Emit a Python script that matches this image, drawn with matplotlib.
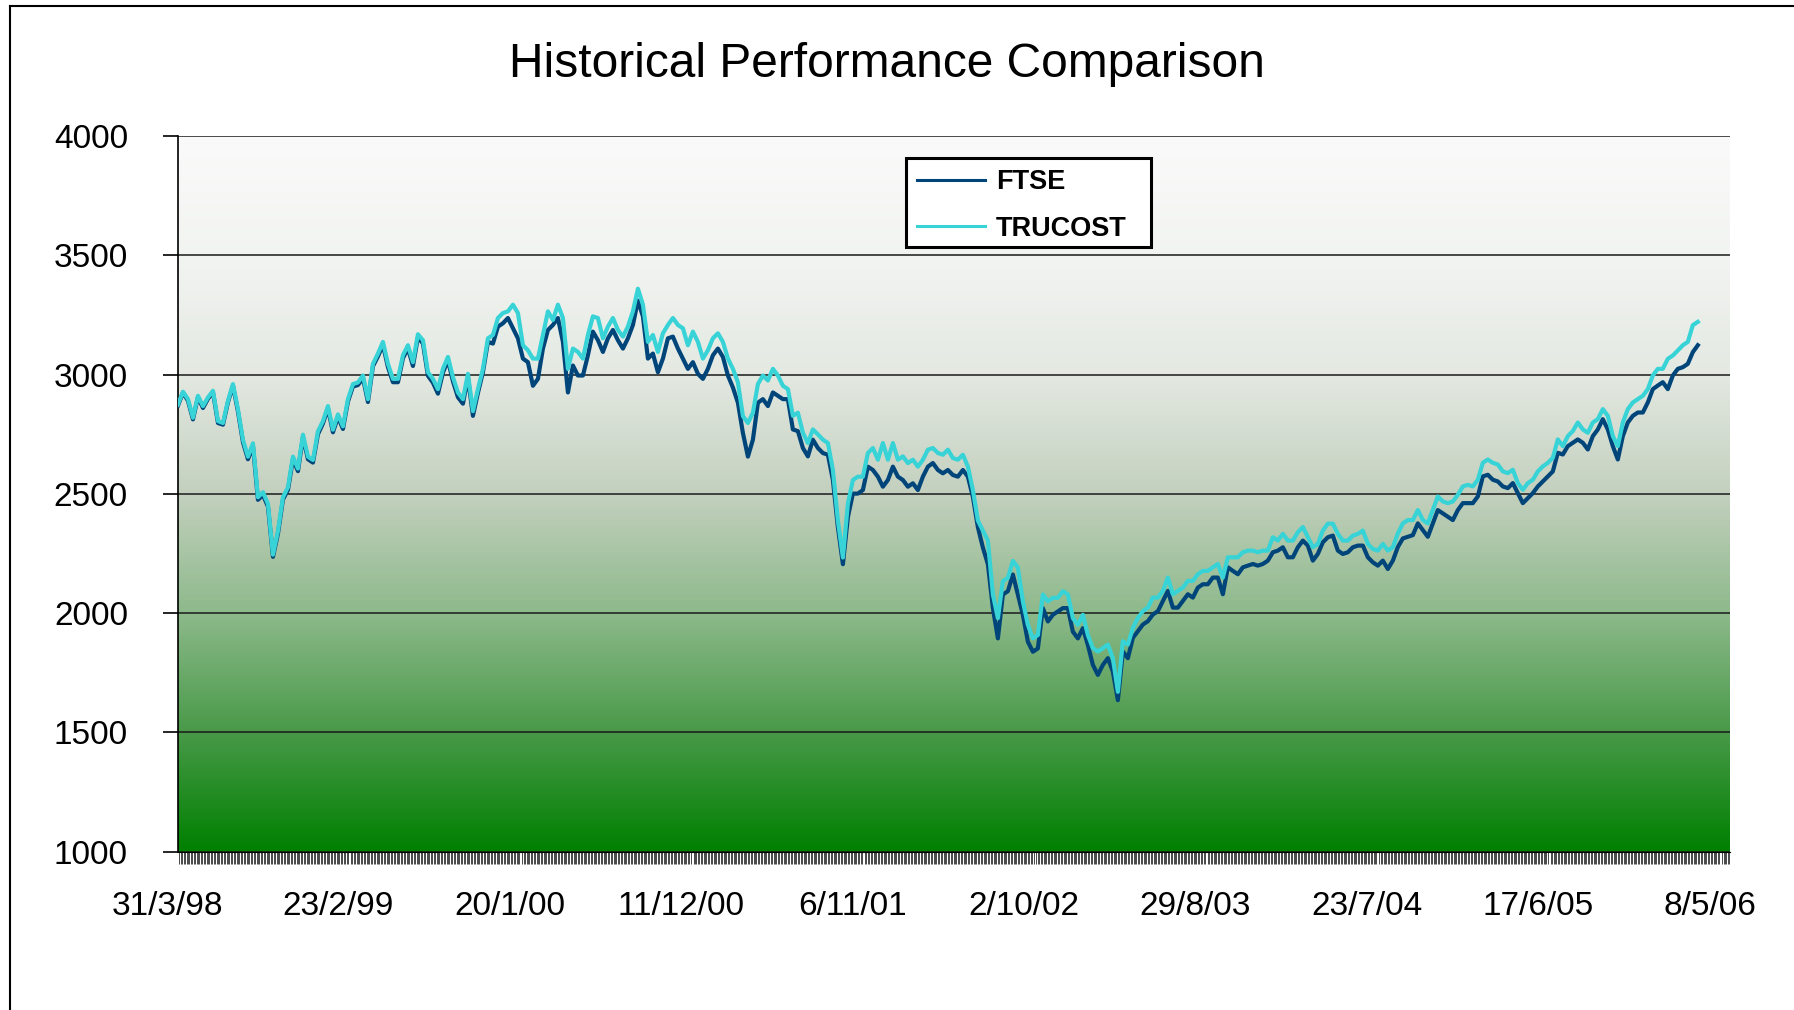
import numpy as np
import matplotlib.pyplot as plt
from matplotlib.colors import LinearSegmentedColormap
from matplotlib.lines import Line2D
from matplotlib.patches import Rectangle
from matplotlib.transforms import ScaledTranslation

plt.rcParams['font.family'] = ['Liberation Sans', 'DejaVu Sans']

# one sample every 7 trading days, starting 31/3/98
DAYS_PER_SAMPLE = 7
LABEL_EVERY = 240

date_labels = ['31/3/98', '23/2/99', '20/1/00', '11/12/00', '6/11/01',
               '2/10/02', '29/8/03', '23/7/04', '17/6/05', '8/5/06']

trucost = [
    2875, 2928, 2897, 2819, 2911, 2868, 2904, 2932, 2805, 2797,
    2890, 2960, 2854, 2727, 2656, 2712, 2486, 2507, 2458, 2245,
    2344, 2486, 2528, 2656, 2606, 2748, 2656, 2642, 2762, 2805,
    2868, 2769, 2833, 2783, 2897, 2960, 2967, 2996, 2897, 3045,
    3088, 3137, 3045, 2982, 2982, 3081, 3123, 3052, 3169, 3144,
    3010, 2982, 2939, 3024, 3074, 2989, 2925, 2897, 3003, 2847,
    2939,
    3024, 3152, 3166, 3237, 3258, 3265, 3293, 3258, 3123, 3102,
    3067, 3067, 3166, 3265, 3229, 3293, 3237, 3024, 3109, 3095,
    3067, 3166, 3244, 3237, 3152, 3201, 3237, 3187, 3159, 3201,
    3265, 3360, 3293, 3137, 3166, 3095, 3173, 3208, 3237, 3208,
    3194, 3123, 3180, 3137, 3067, 3102, 3152, 3173, 3137, 3067,
    3024, 2967, 2826, 2797, 2840, 2960, 2996, 2975, 3024, 2996,
    2953,
    2939, 2827, 2840, 2756, 2713, 2770, 2749, 2727, 2713, 2600,
    2388, 2233, 2459, 2558, 2572, 2572, 2671, 2692, 2643, 2713,
    2643, 2713, 2643, 2657, 2629, 2643, 2614, 2643, 2685, 2692,
    2671, 2664, 2685, 2650, 2643, 2664, 2614, 2516, 2388, 2346,
    2304, 2078, 1979, 2134, 2148, 2219, 2191, 2049, 1951, 1894,
    1908, 2078, 2049, 2064, 2064, 2092, 2078, 1979, 1951, 1993,
    1908,
    1853, 1839, 1853, 1868, 1811, 1670, 1882, 1868, 1938, 1980,
    2008, 2023, 2065, 2065, 2093, 2149, 2079, 2093, 2107, 2135,
    2135, 2163, 2177, 2177, 2192, 2206, 2149, 2234, 2234, 2234,
    2255, 2262, 2262, 2255, 2262, 2262, 2318, 2304, 2332, 2304,
    2304, 2339, 2361, 2318, 2276, 2290, 2346, 2375, 2375, 2332,
    2304, 2304, 2325, 2332, 2346, 2290, 2269, 2262, 2290, 2262,
    2276,
    2334, 2376, 2390, 2390, 2432, 2390, 2376, 2432, 2489, 2468,
    2461, 2468, 2496, 2531, 2538, 2531, 2559, 2630, 2644, 2630,
    2623, 2594, 2587, 2601, 2545, 2517, 2545, 2559, 2594, 2615,
    2630, 2651, 2728, 2700, 2742, 2763, 2799, 2770, 2756, 2799,
    2813, 2855, 2827, 2742, 2700, 2799, 2855, 2883, 2897, 2911,
    2939, 2996, 3024, 3024, 3066, 3080, 3101, 3123, 3137, 3207,
    3221,
]

ftse = [
    2870, 2924, 2890, 2812, 2905, 2860, 2898, 2926, 2797, 2790,
    2884, 2953, 2845, 2716, 2645, 2700, 2475, 2495, 2447, 2236,
    2333, 2476, 2517, 2645, 2595, 2738, 2645, 2631, 2750, 2795,
    2858, 2758, 2822, 2772, 2887, 2950, 2956, 2985, 2885, 3035,
    3076, 3124, 3031, 2968, 2968, 3068, 3110, 3036, 3156, 3130,
    2995, 2966, 2920, 3008, 3060, 2972, 2905, 2878, 2988, 2827,
    2923,
    3010, 3137, 3130, 3201, 3215, 3237, 3194, 3152, 3067, 3052,
    2953, 2982, 3109, 3187, 3208, 3237, 3137, 2925, 3038, 2996,
    2996, 3081, 3180, 3144, 3095, 3152, 3187, 3144, 3109, 3152,
    3208, 3310, 3244, 3067, 3088, 3010, 3067, 3152, 3159, 3109,
    3067, 3024, 3052, 3003, 2982, 3024, 3081, 3109, 3074, 2996,
    2946, 2882, 2755, 2656, 2727, 2882, 2897, 2868, 2925, 2911,
    2897,
    2897, 2770, 2763, 2692, 2657, 2727, 2692, 2671, 2664, 2558,
    2360, 2205, 2403, 2501, 2501, 2516, 2614, 2600, 2572, 2530,
    2558, 2614, 2572, 2558, 2530, 2544, 2516, 2572, 2614, 2629,
    2600, 2586, 2600, 2579, 2572, 2600, 2572, 2487, 2360, 2275,
    2205, 2021, 1894, 2078, 2092, 2162, 2078, 1993, 1880, 1838,
    1852, 2021, 1965, 1993, 2007, 2021, 2021, 1922, 1894, 1937,
    1866,
    1783, 1741, 1783, 1811, 1755, 1635, 1839, 1811, 1896, 1924,
    1952, 1966, 1994, 2008, 2051, 2093, 2023, 2023, 2051, 2079,
    2065, 2107, 2121, 2121, 2149, 2149, 2079, 2192, 2177, 2163,
    2192, 2199, 2206, 2199, 2206, 2220, 2255, 2262, 2276, 2234,
    2234, 2276, 2304, 2283, 2220, 2248, 2297, 2318, 2325, 2262,
    2248, 2255, 2276, 2283, 2283, 2234, 2213, 2199, 2220, 2185,
    2220,
    2277, 2313, 2320, 2327, 2376, 2348, 2320, 2376, 2432, 2418,
    2404, 2390, 2432, 2461, 2461, 2461, 2489, 2573, 2580, 2559,
    2552, 2531, 2524, 2545, 2503, 2461, 2482, 2503, 2531, 2552,
    2573, 2594, 2672, 2665, 2700, 2714, 2728, 2714, 2686, 2742,
    2770, 2813, 2770, 2700, 2644, 2742, 2799, 2827, 2841, 2841,
    2883, 2939, 2954, 2968, 2939, 2996, 3024, 3031, 3045, 3094,
    3123,
]

x = np.arange(len(ftse)) * DAYS_PER_SAMPLE
xmax = 2173

fig = plt.figure(figsize=(17.94, 10.10), dpi=100)
ax = fig.add_axes([0.0992, 0.1568, 0.8651, 0.7085])

# white-to-green gradient fill of the plot area
bg = LinearSegmentedColormap.from_list('bg', [
    (0.0, '#008000'), (0.17, '#4a9a4a'), (0.33, '#8cb98a'), (0.5, '#c3d0be'),
    (0.67, '#e4e9e2'), (0.83, '#f2f4f1'), (1.0, '#fafafa')])
grad = np.linspace(0, 1, 256).reshape(-1, 1)
ax.imshow(grad, extent=[0, xmax, 1000, 4000], origin='lower', aspect='auto',
          cmap=bg, zorder=0)

ax.plot(x, ftse, color='#00457a', lw=3.0, label='FTSE', zorder=3)
ax.plot(x, trucost, color='#38d3d6', lw=3.0, label='TRUCOST', zorder=4)

ax.set_xlim(0, xmax)
ax.set_ylim(1000, 4000)
ax.set_yticks(range(1000, 4001, 500))
ax.yaxis.grid(True, color='#1a1a1a', lw=1.1)

for s in ['top', 'right']:
    ax.spines[s].set_visible(False)
ax.spines['left'].set_color('black')
ax.spines['left'].set_linewidth(1.2)
ax.spines['bottom'].set_color('black')

ax.tick_params(axis='y', direction='out', length=11, width=1.2, pad=25,
               labelsize=24, color='black')
ax.set_xticks(np.arange(len(date_labels)) * LABEL_EVERY)
ax.set_xticklabels(date_labels)
ax.set_xticks(np.arange(0, xmax, 2), minor=True)
ax.tick_params(axis='x', which='major', length=0, pad=28, labelsize=24)
ax.tick_params(axis='x', which='minor', direction='out', length=8.6,
               width=0.5, color='black')
shift = ScaledTranslation(-11 / 100, 0, fig.dpi_scale_trans)
for lab in ax.get_xticklabels():
    lab.set_transform(lab.get_transform() + shift)

# legend box drawn separately so its size matches the original
ax.add_patch(Rectangle((0.4691, 0.8449), 0.1578, 0.1243, transform=ax.transAxes,
                       facecolor='white', edgecolor='black', lw=2.2, zorder=5))
leg = ax.legend(loc='upper left', bbox_to_anchor=(0.469, 0.9692),
                frameon=False, prop={'weight': 'bold', 'size': 19.5},
                handlelength=2.5, handletextpad=0.4, labelspacing=0.74,
                borderpad=0.42, borderaxespad=0)
leg.set_zorder(6)
for h in leg.get_lines():
    h.set_linewidth(2.2)

fig.text(0.4944, 0.936, 'Historical Performance Comparison', fontsize=34.5,
         ha='center', va='center')

# outer chart border (only top and left edges are inside the picture)
fig.add_artist(Line2D([10 / 1794, 1], [1 - 6 / 1010] * 2, color='black', lw=1.5))
fig.add_artist(Line2D([10 / 1794] * 2, [0, 1 - 6 / 1010], color='black', lw=1.5))

fig.savefig('out.png', dpi=100)
